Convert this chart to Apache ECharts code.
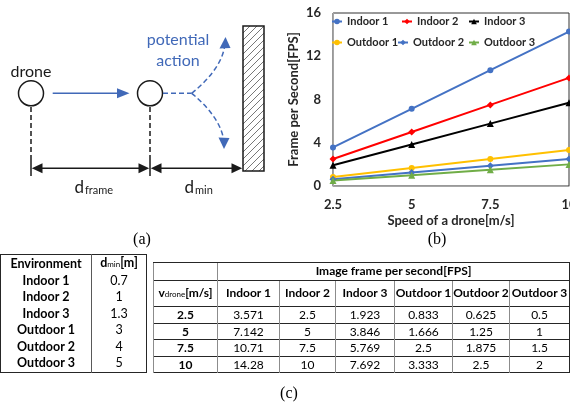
<!DOCTYPE html>
<html>
<head>
<meta charset="utf-8">
<script src="https://cdn.jsdelivr.net/npm/echarts@6.0.0/dist/echarts.min.js"></script>
<style>
body { margin: 0; background: #fff; }
#wrap { position: relative; width: 570px; height: 402px; overflow: hidden; }
#graph_container { position: absolute; left: 0; top: 0; width: 570px; height: 402px; }
.tb { position: absolute; border-collapse: collapse; table-layout: fixed; font-family: Lato, 'Noto Sans', sans-serif; font-size: 12.5px; color: #000; }
.tb td { padding: 0; text-align: center; white-space: nowrap; overflow: hidden; }
.tb .b { font-weight: bold; }
.tb .sub { font-size: 8px; font-weight: normal; }
#env_table { left: 0; top: 254px; width: 146px; border: 1.5px solid #262626; }
#env_table td { height: 16.5px; line-height: 16.5px; }
#env_table td.c0 { border-right: 1px solid #595959; }
#fps_table { left: 153px; top: 262px; width: 416px; border: 1.5px solid #262626; font-size: 12px; }
#fps_table td { height: 15.5px; line-height: 15.5px; border-top: 1px solid #262626; border-left: 1px solid #8c8c8c; }
#fps_table tr.h1 td { height: 16.5px; line-height: 16.5px; }
#fps_table tr.h2 td { height: 24.5px; line-height: 24.5px; }
</style>
</head>
<body>
<div id="wrap">
  <div id="graph_container"></div>
  <table class="tb" id="env_table"></table>
  <table class="tb" id="fps_table"></table>
</div>
<script>
// ---- data ----
var speeds = [2.5, 5, 7.5, 10];
var envNames = ['Indoor 1', 'Indoor 2', 'Indoor 3', 'Outdoor 1', 'Outdoor 2', 'Outdoor 3'];
var dMin = [0.7, 1, 1.3, 3, 4, 5];
var indoor1 = [3.571, 7.142, 10.71, 14.28];
var indoor2 = [2.5, 5, 7.5, 10];
var indoor3 = [1.923, 3.846, 5.769, 7.692];
var outdoor1 = [0.833, 1.666, 2.5, 3.333];
var outdoor2 = [0.625, 1.25, 1.875, 2.5];
var outdoor3 = [0.5, 1, 1.5, 2];
var fpsValues = [indoor1, indoor2, indoor3, outdoor1, outdoor2, outdoor3];

var lineColors = ['#4472C4', '#FF0000', '#000000', '#FFC000', '#4472C4', '#70AD47'];
var lineSymbols = ['circle', 'diamond', 'triangle', 'circle', 'diamond', 'triangle'];
var legendPos = [[331, 16], [401, 16], [468, 16], [331, 37], [397, 37], [468, 37]];

var fontFam = 'Lato, sans-serif';
var ink = '#1a1a1a';
var blue = '#4169b8';

/* ---------- tables (c) */
var envHtml = '<colgroup><col style="width:91px"><col style="width:55px"></colgroup>';
envHtml += '<tr><td class="c0 b">Environment</td><td class="b">d<span class="sub">min</span>[m]</td></tr>';
for (var i = 0; i < envNames.length; i++) {
    envHtml += '<tr><td class="c0 b">' + envNames[i] + '</td><td>' + dMin[i] + '</td></tr>';
}
document.getElementById('env_table').innerHTML = envHtml;

var colW = [64, 62, 56, 59, 58, 57, 60];
var fpsHtml = '<colgroup>';
for (var i = 0; i < colW.length; i++) fpsHtml += '<col style="width:' + colW[i] + 'px">';
fpsHtml += '</colgroup>';
fpsHtml += '<tr class="h1"><td></td><td class="b" colspan="6">Image frame per second[FPS]</td></tr>';
fpsHtml += '<tr class="h2"><td class="b">v<span class="sub">drone</span>[m/s]</td>';
for (var i = 0; i < envNames.length; i++) fpsHtml += '<td class="b">' + envNames[i] + '</td>';
fpsHtml += '</tr>';
for (var r = 0; r < speeds.length; r++) {
    fpsHtml += '<tr><td class="b">' + speeds[r] + '</td>';
    for (var c = 0; c < fpsValues.length; c++) fpsHtml += '<td>' + fpsValues[c][r] + '</td>';
    fpsHtml += '</tr>';
}
document.getElementById('fps_table').innerHTML = fpsHtml;

/* ---------- diagram (a) helpers */
function seg(x1, y1, x2, y2, color, dash, w) {
    return { type: 'line', silent: true, shape: { x1: x1, y1: y1, x2: x2, y2: y2 },
        style: { stroke: color, lineWidth: w || 1.5, lineDash: dash || null } };
}
function tri(points, color) {
    return { type: 'polygon', silent: true, shape: { points: points }, style: { fill: color } };
}
function txt(s, x, y, size, color, family, align, vAlign) {
    return { type: 'text', silent: true, x: x, y: y,
        style: { text: s, fill: color, font: size + 'px ' + (family || fontFam),
            align: align || 'center', verticalAlign: vAlign || 'middle' } };
}

var graphics = [];
// drones
graphics.push(txt('drone', 31, 72, 16, ink));
graphics.push({ type: 'circle', shape: { cx: 31, cy: 93.3, r: 12.5 }, style: { fill: '#fff', stroke: ink, lineWidth: 1.5 } });
graphics.push({ type: 'circle', shape: { cx: 150, cy: 93.3, r: 12.5 }, style: { fill: '#fff', stroke: ink, lineWidth: 1.5 } });
// movement arrow
graphics.push(seg(52.7, 93.3, 121, 93.3, blue));
graphics.push(tri([[129.5, 93.3], [117, 88.3], [117, 98.3]], blue));
// potential action
graphics.push(seg(163, 93.3, 191.7, 93.3, blue, [5, 3]));
graphics.push({ type: 'bezierCurve', silent: true,
    shape: { x1: 191.7, y1: 93.3, cpx1: 200, cpy1: 86.6, cpx2: 221, cpy2: 68.6, x2: 224.5, y2: 47 },
    style: { stroke: blue, lineWidth: 1.5, lineDash: [5, 3], fill: null } });
graphics.push({ type: 'bezierCurve', silent: true,
    shape: { x1: 191.7, y1: 93.3, cpx1: 200, cpy1: 100, cpx2: 220, cpy2: 118, x2: 223.5, y2: 139 },
    style: { stroke: blue, lineWidth: 1.5, lineDash: [5, 3], fill: null } });
graphics.push(tri([[225.5, 37], [219.5, 48.5], [230.5, 48]], blue));
graphics.push(tri([[224, 149], [218.5, 137.5], [229.5, 138]], blue));
graphics.push(txt('potential', 178, 39.5, 16, blue));
graphics.push(txt('action', 178, 61, 16, blue));
// wall with hatching
var wx0 = 243, wx1 = 264, wy0 = 26, wy1 = 171, hs = 7;
for (var c = wx0 + wy0 + hs; c < wx1 + wy1; c += hs) {
    var ax = Math.max(wx0, c - wy1), bx = Math.min(wx1, c - wy0);
    graphics.push(seg(ax, c - ax, bx, c - bx, '#555', null, 0.8));
}
graphics.push({ type: 'rect', silent: true, shape: { x: wx0, y: wy0, width: wx1 - wx0, height: wy1 - wy0 },
    style: { fill: null, stroke: ink, lineWidth: 1.5 } });
// dimension lines
graphics.push(seg(31, 107, 31, 160, ink, [5, 3]));
graphics.push(seg(150, 107, 150, 160, ink, [5, 3]));
graphics.push(seg(31, 160, 31, 176, ink));
graphics.push(seg(150, 160, 150, 176, ink));
graphics.push(seg(40, 168.3, 141, 168.3, ink));
graphics.push(seg(159, 168.3, 234, 168.3, ink));
graphics.push(tri([[31.8, 168.3], [42.5, 163.3], [42.5, 173.3]], ink));
graphics.push(tri([[149.2, 168.3], [138.5, 163.3], [138.5, 173.3]], ink));
graphics.push(tri([[150.8, 168.3], [161.5, 163.3], [161.5, 173.3]], ink));
graphics.push(tri([[242.2, 168.3], [231.5, 163.3], [231.5, 173.3]], ink));
graphics.push(txt('d', 84, 196, 17, ink, null, 'right', 'bottom'));
graphics.push(txt('frame', 85, 196, 11, ink, null, 'left', 'bottom'));
graphics.push(txt('d', 194, 196, 17, ink, null, 'right', 'bottom'));
graphics.push(txt('min', 195, 196, 11, ink, null, 'left', 'bottom'));
// captions
graphics.push(txt('(a)', 142, 240, 16, '#000', '"Liberation Serif", serif'));
graphics.push(txt('(b)', 437, 240, 16, '#000', '"Liberation Serif", serif'));
graphics.push(txt('(c)', 289, 394, 16, '#000', '"Liberation Serif", serif'));

/* ---------- chart (b) */
var dom = document.getElementById('graph_container');
var myChart = echarts.init(dom);
var option = null;

var series = [];
var legends = [];
for (var i = 0; i < envNames.length; i++) {
    var pts = [];
    for (var k = 0; k < speeds.length; k++) pts.push([speeds[k], fpsValues[i][k]]);
    series.push({
        name: envNames[i],
        type: 'line',
        data: pts,
        symbol: lineSymbols[i],
        symbolSize: lineSymbols[i] == 'circle' ? 6 : 7,
        itemStyle: { color: lineColors[i] },
        lineStyle: { color: lineColors[i], width: 2 },
        animation: false
    });
    legends.push({
        data: [envNames[i]],
        left: legendPos[i][0],
        top: legendPos[i][1],
        padding: 0,
        itemWidth: 10,
        itemHeight: 7,
        selectedMode: false,
        textStyle: { fontFamily: fontFam, fontWeight: 'bold', fontSize: 11, color: '#262626' }
    });
}

var axisText = { fontFamily: fontFam, fontWeight: 'bold', fontSize: 13, color: '#262626' };

option = {
    backgroundColor: '#fff',
    animation: false,
    grid: {
        left: 333,
        top: 13,
        width: 236,
        height: 173,
        show: true,
        borderColor: '#333',
        borderWidth: 1,
        containLabel: false,
        outerBoundsMode: 'none'
    },
    legend: legends,
    xAxis: {
        type: 'value',
        min: 2.5,
        max: 10,
        interval: 2.5,
        name: 'Speed of a drone[m/s]',
        nameLocation: 'middle',
        nameGap: 28,
        nameTextStyle: axisText,
        axisLine: { show: true, lineStyle: { color: '#a6a6a6' } },
        axisTick: { show: false },
        splitLine: { show: false },
        axisLabel: { margin: 12, fontFamily: fontFam, fontWeight: 'bold', fontSize: 13, color: '#262626' }
    },
    yAxis: {
        type: 'value',
        min: 0,
        max: 16,
        interval: 4,
        name: 'Frame per Second[FPS]',
        nameLocation: 'middle',
        nameGap: 33,
        nameTextStyle: axisText,
        axisLine: { show: true, lineStyle: { color: '#a6a6a6' } },
        axisTick: { show: false },
        splitLine: { show: false },
        axisLabel: { margin: 12, fontFamily: fontFam, fontWeight: 'bold', fontSize: 13, color: '#262626' }
    },
    graphic: graphics,
    series: series
};

if (option && typeof option === "object") {
    myChart.setOption(option, true);
}
</script>
</body>
</html>
